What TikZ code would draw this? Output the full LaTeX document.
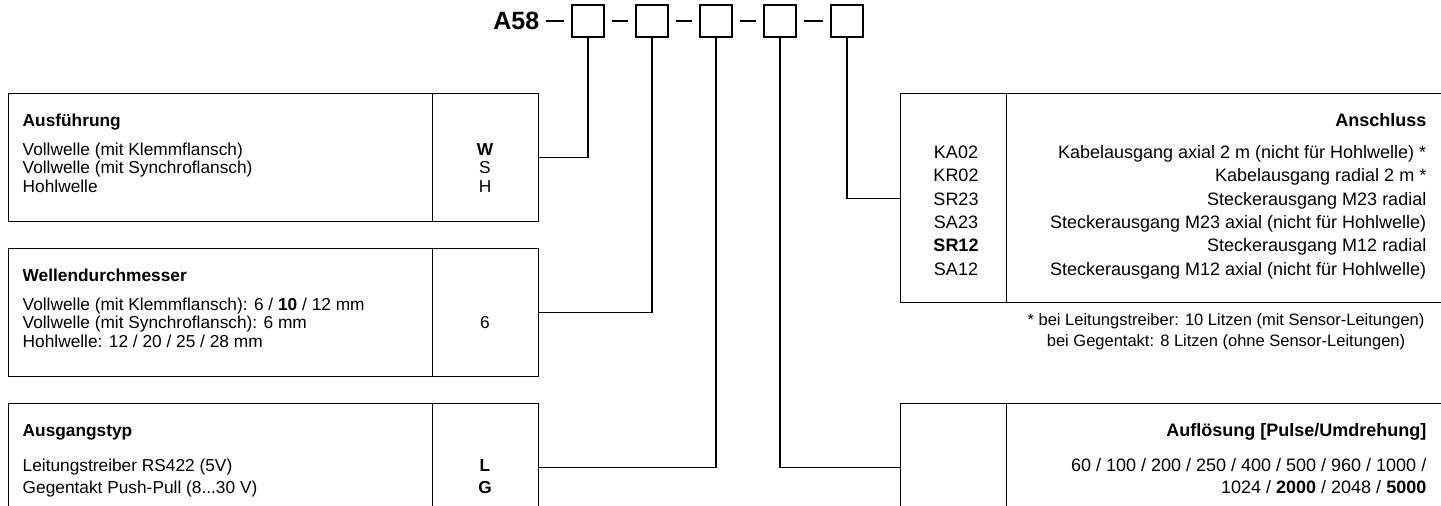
\documentclass[tikz,border=0pt]{standalone}
\usepackage{fontspec}
\setmainfont{Liberation Sans}
\tikzset{
  frame/.style={draw, line width=1.4pt, inner sep=0pt, anchor=north west},
  sqbox/.style={draw, line width=1.4pt, minimum size=32pt, inner sep=0pt},
  txt/.style={inner sep=0pt, font=\fontsize{17.3}{20}\selectfont},
  hd/.style={txt, font=\fontsize{17.3}{20}\selectfont\bfseries},
  rtxt/.style={inner sep=0pt, font=\fontsize{18}{21}\selectfont},
  rhd/.style={rtxt, font=\fontsize{18}{21}\selectfont\bfseries},
  note/.style={inner sep=0pt, font=\fontsize{16.5}{20}\selectfont},
}
\begin{document}
\begin{tikzpicture}[x=1pt, y=-1pt, line width=1.4pt]
  \useasboundingbox (0,0) rectangle (1441,506);
  \clip (0,0) rectangle (1441,506);

  % Typschluessel oben
  \node[inner sep=0pt, anchor=east, font=\fontsize{25}{28}\selectfont\bfseries] (typ) at (540,21) {A58};
  \foreach \i/\x in {1/588, 2/652, 3/716, 4/780, 5/847}
    \node[sqbox] (sq\i) at (\x,21) {};
  \draw ([xshift=6pt]typ.east) -- ([xshift=-7pt]sq1.west);
  \foreach \i [count=\j from 2] in {1,...,4}
    \draw ([xshift=7pt]sq\i.east) -- ([xshift=-7pt]sq\j.west);

  % Ausfuehrung
  \node[frame, minimum width=424pt, minimum height=128pt] (ausf) at (8,93) {};
  \node[frame, minimum width=106pt, minimum height=128pt] (ausfcode) at (432,93) {};
  \node[hd, anchor=base west] (ausfhd) at (22,126.2) {Ausführung};
  \foreach \t/\c [count=\i] in {{Vollwelle (mit Klemmflansch)}/{\textbf{W}},
                                {Vollwelle (mit Synchroflansch)}/S, Hohlwelle/H} {
    \node[txt, anchor=base west] (ausf\i) at (22,136.7+18.5*\i) {\t};
    \node[txt, anchor=base] (ausfc\i) at (485,136.7+18.5*\i) {\c};
  }

  % Wellendurchmesser
  \node[frame, minimum width=424pt, minimum height=128pt] (well) at (8,248) {};
  \node[frame, minimum width=106pt, minimum height=128pt] (wellcode) at (432,248) {};
  \node[hd, anchor=base west] (wellhd) at (22,281.2) {Wellendurchmesser};
  \foreach \t [count=\i] in {{Vollwelle (mit Klemmflansch): 6 / \textbf{10} / 12 mm},
                             {Vollwelle (mit Synchroflansch): 6 mm},
                             {Hohlwelle: 12 / 20 / 25 / 28 mm}}
    \node[txt, anchor=base west] (well\i) at (22,291.7+18.5*\i) {\t};
  \node[txt, anchor=base] (wellc) at (485,328.7) {6};

  % Ausgangstyp
  \node[frame, minimum width=424pt, minimum height=128pt] (typb) at (8,403) {};
  \node[frame, minimum width=106pt, minimum height=128pt] (typcode) at (432,403) {};
  \node[hd, anchor=base west] (typhd) at (22,436.2) {Ausgangstyp};
  \foreach \t/\c [count=\i] in {{Leitungstreiber RS422 (5V)}/L, {Gegentakt Push-Pull (8...30 V)}/G} {
    \node[txt, anchor=base west] (typ\i) at (22,449.5+22*\i) {\t};
    \node[txt, anchor=base] (typc\i) at (485,449.5+22*\i) {\textbf{\c}};
  }

  % Anschluss
  \node[frame, minimum width=106pt, minimum height=209pt] (anscode) at (900,93) {};
  \node[frame, minimum width=460pt, minimum height=209pt] (ans) at (1006,93) {};
  \node[rhd, anchor=base east] (anshd) at (1427,126.5) {Anschluss};
  \foreach \c/\t [count=\i] in {KA02/{Kabelausgang axial 2 m (nicht für Hohlwelle) *},
                                KR02/{Kabelausgang radial 2 m *},
                                SR23/{Steckerausgang M23 radial},
                                SA23/{Steckerausgang M23 axial (nicht für Hohlwelle)},
                                {\textbf{SR12}}/{Steckerausgang M12 radial},
                                SA12/{Steckerausgang M12 axial (nicht für Hohlwelle)}} {
    \node[rtxt, anchor=base] (ansc\i) at (956,135.2+23.3*\i) {\c};
    \node[rtxt, anchor=base east] (ans\i) at (1427,135.2+23.3*\i) {\t};
  }
  \node[note, anchor=base] (fn1) at (1226,325) {* bei Leitungstreiber: 10 Litzen (mit Sensor-Leitungen)};
  \node[note, anchor=base] (fn2) at (1226,346) {bei Gegentakt: 8 Litzen (ohne Sensor-Leitungen)};

  % Aufloesung
  \node[frame, minimum width=106pt, minimum height=128pt] (aufcode) at (900,403) {};
  \node[frame, minimum width=460pt, minimum height=128pt] (auf) at (1006,403) {};
  \node[rhd, anchor=base east] (aufhd) at (1427,436.5) {Auflösung [Pulse/Umdrehung]};
  \node[rtxt, anchor=base east] (auf1) at (1427,471.5) {60 / 100 / 200 / 250 / 400 / 500 / 960 / 1000 /};
  \node[rtxt, anchor=base east] (auf2) at (1427,493.5) {1024 / \textbf{2000} / 2048 / \textbf{5000}};

  % Verbindungen
  \draw (sq1.south) |- (ausfcode.east);
  \draw (sq2.south) |- (wellcode.east);
  \draw (sq3.south) |- (typcode.east);
  \draw (sq4.south) |- (aufcode.west);
  \draw (sq5.south) |- (anscode.west);
\end{tikzpicture}
\end{document}
